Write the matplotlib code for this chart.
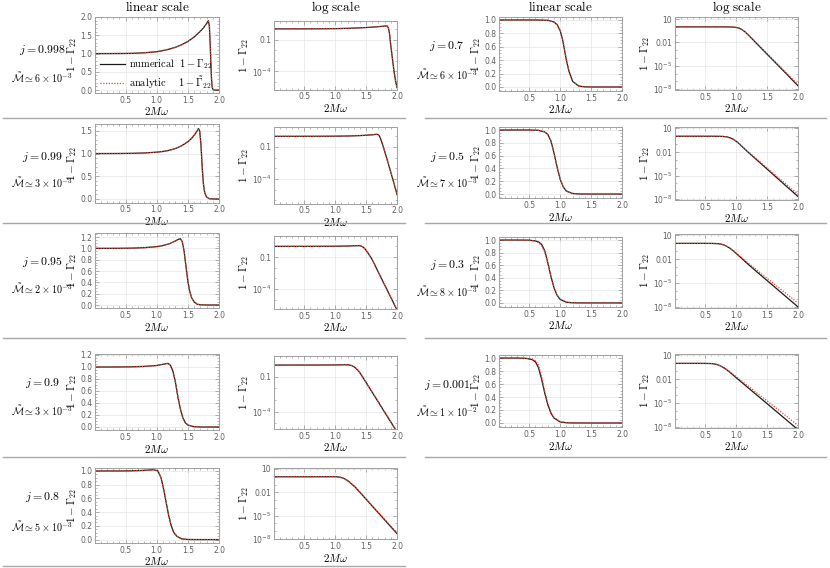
import matplotlib
matplotlib.use("Agg")
import matplotlib.pyplot as plt
from matplotlib.lines import Line2D
from matplotlib.ticker import FixedLocator, FixedFormatter, MultipleLocator, LogLocator, NullFormatter, AutoMinorLocator

plt.rcParams['mathtext.fontset'] = 'cm'

# --- data (2M omega, 1 - Gamma_22) ---
x_0998 = [0.01, 0.2, 0.4, 0.6, 0.8, 1.0, 1.1, 1.2, 1.3, 1.4, 1.5, 1.6, 1.7, 1.75, 1.8, 1.83, 1.845, 1.86, 1.87, 1.88, 1.89, 1.9, 1.92, 1.95, 1.975, 2.0]
num_0998 = [1.0, 1.0, 1.001, 1.005, 1.02, 1.05, 1.08, 1.12, 1.17, 1.24, 1.33, 1.45, 1.61, 1.70, 1.82, 1.90, 1.75, 1.2, 0.7, 0.3, 0.09, 0.025, 0.003, 1.2e-4, 1.5e-5, 3e-6]
ana_0998 = [1.0, 1.0, 1.001, 1.005, 1.02, 1.05, 1.08, 1.12, 1.17, 1.24, 1.33, 1.45, 1.61, 1.70, 1.82, 1.89, 1.76, 1.25, 0.74, 0.32, 0.1, 0.027, 0.0033, 1.3e-4, 1.6e-5, 3.2e-6]

x_099 = [0.01, 0.2, 0.4, 0.6, 0.8, 1.0, 1.1, 1.2, 1.3, 1.4, 1.5, 1.55, 1.6, 1.65, 1.67, 1.69, 1.71, 1.73, 1.75, 1.77, 1.8, 1.85, 1.9, 1.95, 2.0]
num_099 = [1.0, 1.0, 1.001, 1.004, 1.012, 1.03, 1.045, 1.07, 1.11, 1.17, 1.26, 1.32, 1.40, 1.50, 1.55, 1.50, 1.2, 0.7, 0.33, 0.14, 0.04, 0.0042, 4.2e-4, 4e-5, 3.5e-6]
ana_099 = [1.0, 1.0, 1.001, 1.004, 1.012, 1.03, 1.045, 1.07, 1.11, 1.17, 1.26, 1.32, 1.40, 1.50, 1.55, 1.51, 1.22, 0.72, 0.34, 0.145, 0.042, 0.0045, 4.5e-4, 4.3e-5, 3.8e-6]

x_095 = [0.01, 0.2, 0.4, 0.6, 0.8, 1.0, 1.1, 1.2, 1.3, 1.35, 1.38, 1.41, 1.44, 1.47, 1.5, 1.53, 1.56, 1.6, 1.65, 1.7, 1.8, 1.9, 2.0]
num_095 = [1.0, 1.0, 1.001, 1.004, 1.012, 1.03, 1.05, 1.08, 1.13, 1.16, 1.17, 1.12, 0.95, 0.68, 0.42, 0.24, 0.13, 0.055, 0.014, 0.0036, 2.4e-4, 1.6e-5, 1.1e-6]
ana_095 = [1.0, 1.0, 1.001, 1.004, 1.012, 1.03, 1.05, 1.08, 1.13, 1.16, 1.17, 1.13, 0.96, 0.69, 0.43, 0.245, 0.135, 0.057, 0.015, 0.0038, 2.6e-4, 1.7e-5, 1.2e-6]

x_09 = [0.01, 0.2, 0.4, 0.6, 0.8, 1.0, 1.1, 1.18, 1.22, 1.26, 1.3, 1.34, 1.38, 1.42, 1.46, 1.5, 1.6, 1.7, 1.8, 1.9, 2.0]
num_09 = [1.0, 1.0, 1.001, 1.003, 1.01, 1.025, 1.045, 1.06, 1.03, 0.93, 0.75, 0.5, 0.3, 0.15, 0.07, 0.032, 0.0045, 6.5e-4, 9e-5, 1.3e-5, 1.8e-6]
ana_09 = [1.0, 1.0, 1.001, 1.003, 1.01, 1.025, 1.045, 1.06, 1.035, 0.94, 0.76, 0.51, 0.31, 0.155, 0.073, 0.034, 0.0049, 7.1e-4, 1.0e-4, 1.45e-5, 2.1e-6]

x_08 = [0.01, 0.2, 0.4, 0.6, 0.8, 0.95, 1.02, 1.07, 1.11, 1.15, 1.19, 1.23, 1.27, 1.32, 1.4, 1.5, 1.6, 1.7, 1.8, 1.9, 2.0]
num_08 = [1.0, 1.0, 1.0, 1.002, 1.008, 1.018, 1.0, 0.9, 0.74, 0.55, 0.36, 0.21, 0.11, 0.05, 0.0099, 1.3e-3, 1.7e-4, 2.2e-5, 2.9e-6, 3.8e-7, 5e-8]
ana_08 = [1.0, 1.0, 1.0, 1.002, 1.008, 1.018, 1.0, 0.9, 0.75, 0.56, 0.37, 0.22, 0.115, 0.053, 0.011, 1.45e-3, 1.95e-4, 2.6e-5, 3.5e-6, 4.7e-7, 6.3e-8]

x_07 = [0.01, 0.3, 0.6, 0.8, 0.9, 0.95, 1.0, 1.04, 1.07, 1.1, 1.14, 1.2, 1.3, 1.4, 1.5, 1.6, 1.7, 1.8, 1.9, 2.0]
num_07 = [1.0, 1.0, 1.0, 0.995, 0.97, 0.93, 0.84, 0.7, 0.55, 0.4, 0.24, 0.085, 0.013, 0.002, 3.1e-4, 4.9e-5, 7.6e-6, 1.2e-6, 1.8e-7, 2.8e-8]
ana_07 = [1.0, 1.0, 1.0, 0.995, 0.97, 0.93, 0.845, 0.71, 0.56, 0.41, 0.25, 0.09, 0.015, 0.0024, 3.8e-4, 6.1e-5, 9.8e-6, 1.6e-6, 2.5e-7, 4e-8]

x_05 = [0.01, 0.3, 0.5, 0.65, 0.75, 0.8, 0.85, 0.9, 0.95, 1.0, 1.05, 1.1, 1.2, 1.3, 1.4, 1.5, 1.6, 1.7, 1.8, 1.9, 2.0]
num_05 = [1.0, 1.0, 1.0, 0.995, 0.97, 0.93, 0.83, 0.64, 0.42, 0.23, 0.11, 0.045, 0.0085, 0.0017, 3.4e-4, 6.8e-5, 1.35e-5, 2.7e-6, 5.4e-7, 1.1e-7, 2.2e-8]
ana_05 = [1.0, 1.0, 1.0, 0.995, 0.97, 0.93, 0.83, 0.64, 0.42, 0.235, 0.115, 0.048, 0.0098, 0.0021, 4.4e-4, 9.5e-5, 2e-5, 4.3e-6, 9.2e-7, 2e-7, 4.2e-8]

x_03 = [0.01, 0.3, 0.5, 0.6, 0.65, 0.7, 0.75, 0.8, 0.85, 0.9, 0.95, 1.0, 1.1, 1.2, 1.3, 1.4, 1.5, 1.6, 1.7, 1.8, 1.9, 2.0]
num_03 = [1.0, 1.0, 0.998, 0.985, 0.97, 0.93, 0.83, 0.64, 0.42, 0.24, 0.12, 0.055, 0.011, 0.0022, 4.6e-4, 1.0e-4, 2.2e-5, 4.8e-6, 1.05e-6, 2.3e-7, 5e-8, 1.1e-8]
ana_03 = [1.0, 1.0, 0.997, 0.98, 0.96, 0.91, 0.81, 0.63, 0.42, 0.25, 0.13, 0.062, 0.014, 0.0032, 7.5e-4, 1.8e-4, 4.3e-5, 1.0e-5, 2.4e-6, 5.8e-7, 1.4e-7, 3.3e-8]

x_0001 = [0.01, 0.3, 0.45, 0.55, 0.6, 0.65, 0.7, 0.75, 0.8, 0.85, 0.9, 1.0, 1.1, 1.2, 1.3, 1.4, 1.5, 1.6, 1.7, 1.8, 1.9, 2.0]
num_0001 = [1.0, 1.0, 0.995, 0.975, 0.94, 0.85, 0.67, 0.46, 0.28, 0.15, 0.075, 0.016, 0.0036, 8e-4, 1.8e-4, 4e-5, 9e-6, 2e-6, 4.5e-7, 1e-7, 2.2e-8, 5e-9]
ana_0001 = [1.0, 1.0, 0.997, 0.985, 0.96, 0.89, 0.71, 0.49, 0.3, 0.165, 0.085, 0.022, 0.0055, 1.35e-3, 3.3e-4, 8e-5, 2e-5, 4.8e-6, 1.2e-6, 2.9e-7, 7e-8, 1.7e-8]

spin_labels = ['0.998', '0.99', '0.95', '0.9', '0.8', '0.7', '0.5', '0.3', '0.001']
mass_labels = [r'6 \times 10^{-3}', r'3 \times 10^{-3}', r'2 \times 10^{-3}', r'3 \times 10^{-3}',
               r'5 \times 10^{-3}', r'6 \times 10^{-3}', r'7 \times 10^{-3}', r'8 \times 10^{-3}',
               r'1 \times 10^{-2}']
xs = [x_0998, x_099, x_095, x_09, x_08, x_07, x_05, x_03, x_0001]
nums = [num_0998, num_099, num_095, num_09, num_08, num_07, num_05, num_03, num_0001]
anas = [ana_0998, ana_099, ana_095, ana_09, ana_08, ana_07, ana_05, ana_03, ana_0001]

log_ticks_a = [0.1, 1e-4]
log_labels_a = ['0.1', r'$\mathdefault{10^{-4}}$']
log_ticks_b = [10, 0.01, 1e-5, 1e-8]
log_labels_b = ['10', '0.01', r'$\mathdefault{10^{-5}}$', r'$\mathdefault{10^{-8}}$']

# --- layout in pixels (830 x 568) ---
W, H = 830, 568
col = [0, 0, 0, 0, 0, 1, 1, 1, 1]
lin_x = [(95, 219), (499, 622)]
log_x = [(274, 397), (675, 798)]
lab_x = [42, 447]
lin_box = [(17, 93), (124, 202.6), (232.5, 308.4), (353.8, 430.3), (468.2, 543),
           (17.3, 91), (126.8, 198.2), (236.9, 307), (354.8, 427.2)]
lin_ylim = [(-0.08, 2.0), (-0.08, 1.65), (-0.06, 1.28), (-0.055, 1.22), (-0.05, 1.04),
            (-0.06, 1.04), (-0.065, 1.05), (-0.065, 1.05), (-0.065, 1.05)]
lin_step = [0.5, 0.5, 0.2, 0.2, 0.2, 0.2, 0.2, 0.2, 0.2]
log_box = [(21.4, 89.6), (127.3, 203.5), (235.7, 308.8), (356, 429), (467.6, 539.4),
           (16.7, 90), (127, 200), (234, 308), (354, 428)]
log_ylim = [(2e-6, 5), (5e-7, 7), (1.4e-6, 10), (3.3e-6, 6), (9e-9, 15),
            (8e-9, 20), (8e-9, 15), (8e-9, 15), (8e-9, 15)]
label_y = [(50, 78), (157, 183), (262, 289), (383, 411), (497, 527),
           (46, 75), (157, 183), (265, 292), (385, 412)]
sep_left = [118, 223, 338, 457, 566]
sep_right = [118, 223, 338, 457]

frame_c = '#a0a0a0'
tick_c = '#606060'
grid_c = '#e6e6e6'
black = '#1a1a1a'
red = '#e8472f'

fig = plt.figure(figsize=(W / 100, H / 100), dpi=100)


def px_axes(x0, x1, y0, y1):
    return fig.add_axes([x0 / W, 1 - y1 / H, (x1 - x0) / W, (y1 - y0) / H])


def style(ax):
    for s in ax.spines.values():
        s.set_color(frame_c)
        s.set_linewidth(0.7)
    ax.tick_params(which='both', direction='in', top=True, right=True, color=frame_c,
                   labelcolor=tick_c, labelsize=5.5, pad=2)
    ax.tick_params(which='major', length=3, width=0.6)
    ax.tick_params(which='minor', length=1.6, width=0.5)
    ax.grid(True, which='major', color=grid_c, lw=0.5)
    ax.set_axisbelow(True)
    ax.set_xlim(0.01, 2.0)
    ax.xaxis.set_major_locator(FixedLocator([0.5, 1.0, 1.5, 2.0]))
    ax.xaxis.set_minor_locator(MultipleLocator(0.1))
    ax.set_xlabel(r'$2M\omega$', fontsize=8, labelpad=0.5)
    ax.set_ylabel(r'$1-\Gamma_{22}$', fontsize=8, labelpad=1)


for i in range(9):
    c = col[i]
    # linear panel
    ax = px_axes(lin_x[c][0], lin_x[c][1], lin_box[i][0], lin_box[i][1])
    style(ax)
    ax.plot(xs[i], nums[i], color=black, lw=0.9, label=r'$\mathrm{numerical}\ \ 1-\Gamma_{22}$')
    ax.plot(xs[i], anas[i], color=red, lw=0.9, ls=(0, (1, 1.2)),
            label=r'$\mathrm{analytic}\quad\ \, 1-\tilde{\Gamma}_{22}$')
    ax.set_ylim(*lin_ylim[i])
    ax.yaxis.set_major_locator(MultipleLocator(lin_step[i]))
    ax.yaxis.set_minor_locator(AutoMinorLocator(5 if lin_step[i] == 0.5 else 4))
    ax.yaxis.set_major_formatter(matplotlib.ticker.FormatStrFormatter('%.1f'))
    if i == 0:
        ax.legend(loc='lower left', bbox_to_anchor=(0.04, 0.03), frameon=False, fontsize=7.5,
                  handlelength=2.4, handletextpad=0.4, labelspacing=0.25, borderaxespad=0,
                  borderpad=0)

    # log panel
    ax = px_axes(log_x[c][0], log_x[c][1], log_box[i][0], log_box[i][1])
    style(ax)
    ax.set_yscale('log')
    ax.plot(xs[i], nums[i], color=black, lw=0.9)
    ax.plot(xs[i], anas[i], color=red, lw=0.9, ls=(0, (1, 1.2)))
    ax.set_ylim(*log_ylim[i])
    if log_ylim[i][1] < 12 and log_ylim[i][0] > 1e-7:
        ax.yaxis.set_major_locator(FixedLocator(log_ticks_a))
        ax.yaxis.set_major_formatter(FixedFormatter(log_labels_a))
    else:
        ax.yaxis.set_major_locator(FixedLocator(log_ticks_b))
        ax.yaxis.set_major_formatter(FixedFormatter(log_labels_b))
    ax.yaxis.set_minor_locator(LogLocator(base=10, subs=(1.0,), numticks=40))
    ax.yaxis.set_minor_formatter(NullFormatter())

    # row labels
    fig.text(lab_x[c] / W, 1 - label_y[i][0] / H, r'$j = %s$' % spin_labels[i],
             ha='center', va='center', fontsize=8.5)
    fig.text(lab_x[c] / W, 1 - label_y[i][1] / H, r'$\tilde{\mathcal{M}} \simeq %s$' % mass_labels[i],
             ha='center', va='center', fontsize=7.3)

# column titles
for c in range(2):
    fig.text((lin_x[c][0] + lin_x[c][1]) / 2 / W, 1 - 7 / H, r'$\mathrm{linear\ scale}$',
             ha='center', va='center', fontsize=9.5)
    fig.text((log_x[c][0] + log_x[c][1]) / 2 / W, 1 - 7 / H, r'$\mathrm{log\ scale}$',
             ha='center', va='center', fontsize=9.5)

# row separators
for y in sep_left:
    fig.add_artist(Line2D([3 / W, 405 / W], [1 - y / H, 1 - y / H], color='#a8a8a8', lw=1))
for y in sep_right:
    fig.add_artist(Line2D([425 / W, 826 / W], [1 - y / H, 1 - y / H], color='#a8a8a8', lw=1))

fig.savefig('out.png', dpi=100)
